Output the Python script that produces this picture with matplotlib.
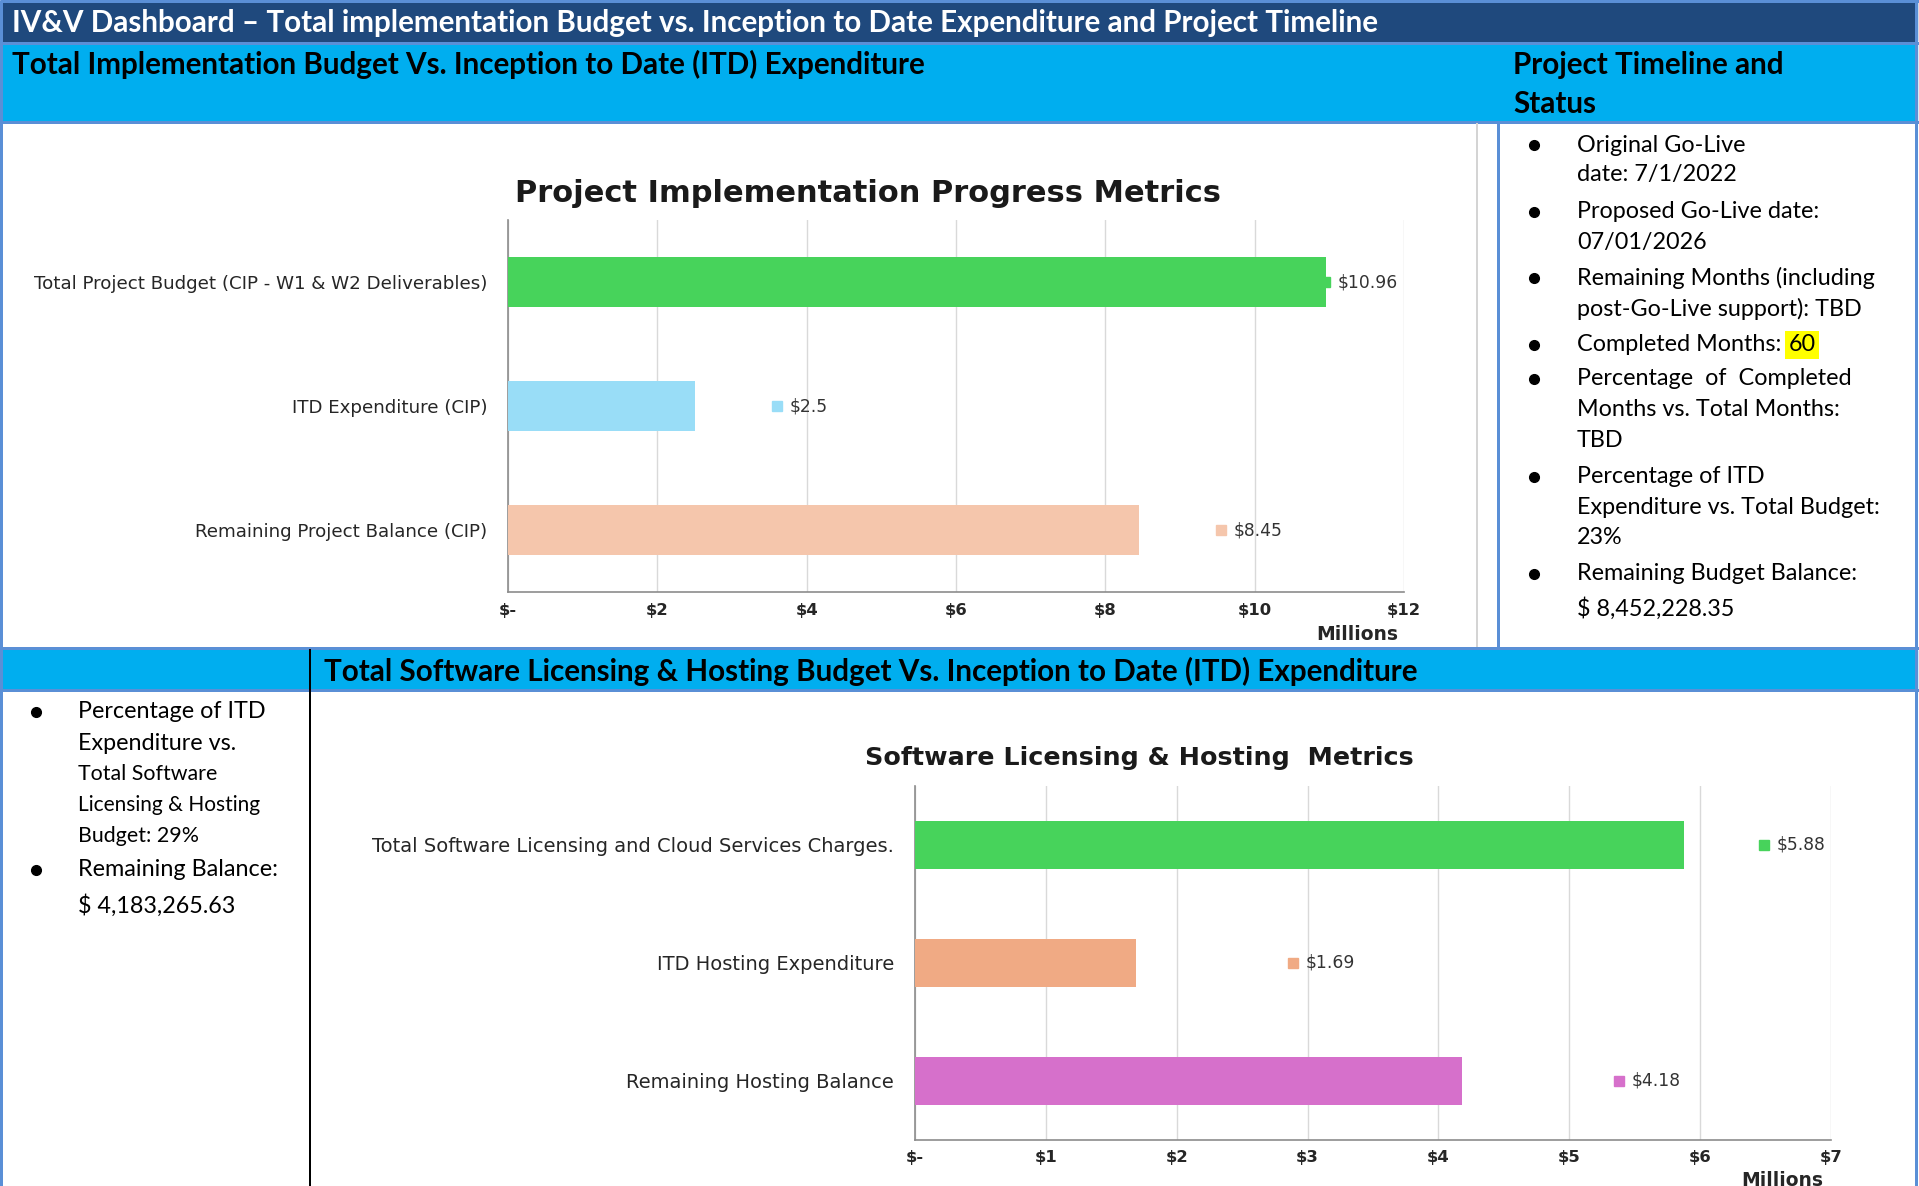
import matplotlib
matplotlib.use("Agg")
import matplotlib.pyplot as plt
from matplotlib.patches import Rectangle

# implementation budget chart
impl_categories = [
    "Total Project Budget (CIP - W1 & W2 Deliverables)",
    "ITD Expenditure (CIP)",
    "Remaining Project Balance (CIP)",
]
impl_values = [10.96, 2.5, 8.45]
impl_colors = ["#47D35B", "#99DDF7", "#F5C6AC"]
impl_ticks = [0, 2, 4, 6, 8, 10, 12]

# software licensing & hosting chart
host_categories = [
    "Total Software Licensing and Cloud Services Charges.",
    "ITD Hosting Expenditure",
    "Remaining Hosting Balance",
]
host_values = [5.88, 1.69, 4.18]
host_colors = ["#47D35B", "#F0AA84", "#D670CB"]
host_ticks = [0, 1, 2, 3, 4, 5, 6, 7]

# status text
timeline_items = [
    ["Original Go-Live", "date: 7/1/2022"],
    ["Proposed Go-Live date:", "07/01/2026"],
    ["Remaining Months (including", "post-Go-Live support): TBD"],
    ["Completed Months: "],
    ["Percentage  of  Completed", "Months vs. Total Months:", "TBD"],
    ["Percentage of ITD", "Expenditure vs. Total Budget:", "23%"],
    ["Remaining Budget Balance:", "$ 8,452,228.35"],
]
completed_months = "60"
hosting_items = [
    ["Percentage of ITD", "Expenditure vs.", "Total Software", "Licensing & Hosting", "Budget: 29%"],
    ["Remaining Balance:", "$ 4,183,265.63"],
]

NAVY = "#1F497D"
CYAN = "#00AEEF"
EDGE = "#5A8FD6"
BODY = "Lato"
CHART = "DejaVu Sans"

W, H = 1919, 1186
fig = plt.figure(figsize=(W / 100, H / 100), dpi=100)
bg = fig.add_axes([0, 0, 1, 1], zorder=0)
bg.set_xlim(0, W)
bg.set_ylim(H, 0)
bg.axis("off")


def px_lw(p):
    return p * 0.72


def hline(y, x0, x1, color=EDGE, width=3):
    bg.plot([x0, x1], [y, y], color=color, lw=px_lw(width), solid_capstyle="butt")


def vline(x, y0, y1, color=EDGE, width=3):
    bg.plot([x, x], [y0, y1], color=color, lw=px_lw(width), solid_capstyle="butt")


# bands
bg.add_patch(Rectangle((2, 2), W - 4, 39, color=NAVY))
bg.add_patch(Rectangle((2, 44), W - 4, 77, color=CYAN))
bg.add_patch(Rectangle((2, 650), W - 4, 39, color=CYAN))
hline(1, 0, W)
hline(42.5, 0, W)
hline(122, 0, W)
hline(648, 0, W)
hline(690, 0, W)
vline(1, 0, H)
vline(1916, 0, H)
vline(1498, 122, 648)
vline(1477, 123, 647, color="#D4D4D4", width=2)
vline(310, 649, H, color="black", width=2)

HEAD = 21.3
bg.text(12, 23, "IV&V Dashboard \u2013 Total implementation Budget vs. Inception to Date Expenditure and Project Timeline",
        color="white", fontsize=HEAD, fontweight="bold", family=BODY, va="center")
bg.text(12, 64, "Total Implementation Budget Vs. Inception to Date (ITD) Expenditure",
        fontsize=HEAD, fontweight="bold", family=BODY, va="center")
bg.text(1513, 65, "Project Timeline and", fontsize=HEAD, fontweight="bold", family=BODY, va="center")
bg.text(1513, 104, "Status", fontsize=HEAD, fontweight="bold", family=BODY, va="center")
bg.text(324, 671, "Total Software Licensing & Hosting Budget Vs. Inception to Date (ITD) Expenditure",
        fontsize=HEAD, fontweight="bold", family=BODY, va="center")


def bullet_list(items, x_dot, x_txt, y_start, line_hs, gaps, sizes=None):
    y = y_start
    placed = []
    for k, lines in enumerate(items):
        bg.plot(x_dot, y, marker="o", ms=7, color="black")
        for j, line in enumerate(lines):
            fs = sizes[k][j] if sizes else 16.8
            t = bg.text(x_txt, y, line, fontsize=fs, family=BODY, va="center")
            placed.append(t)
            y += line_hs[k]
        y += gaps[k] - line_hs[k] + 30.5
    return placed


tl_texts = bullet_list(timeline_items, 1534, 1577, 145,
                       [30, 31, 31.5, 30.5, 31, 30.5, 35],
                       [6.5, 4, 5, 3.5, 5.5, 5.5, 0])
hs_texts = bullet_list(hosting_items, 36, 78, 712, [31, 36.5], [3, 0],
                       sizes=[[16.8, 16.8, 15.4, 15.0, 15.4], [16.8, 16.8]])

# highlighted month count right after its label
renderer = fig.canvas.get_renderer()
label = [t for t in tl_texts if t.get_text().startswith("Completed")][0]
ext = label.get_window_extent(renderer)
x_end = bg.transData.inverted().transform((ext.x1, ext.y0))[0]
bg.text(x_end + 1, label.get_position()[1], completed_months, fontsize=16.8, family=BODY, va="center",
        bbox=dict(facecolor="#FFFF00", edgecolor="none", pad=2.5))


def add_chart(box, categories, values, colors, ticks, title, title_xy, title_size,
              label_size, millions_xy, offset, cap, tick_pad):
    x0, y0, x1, y1 = box
    ax = fig.add_axes([x0 / W, 1 - y1 / H, (x1 - x0) / W, (y1 - y0) / H], zorder=2)
    ax.patch.set_alpha(0)
    pos = list(range(len(values)))
    ax.barh(pos, values, height=0.4, color=colors, zorder=3)
    ax.set_xlim(ticks[0], ticks[-1])
    ax.set_ylim(len(values) - 0.5, -0.5)
    ax.set_xticks(ticks)
    ax.set_xticklabels(["$-" if t == 0 else f"${t}" for t in ticks],
                       fontsize=11.8, fontweight="bold", family=CHART, color="#262626")
    ax.set_yticks(pos)
    ax.set_yticklabels(categories, fontsize=label_size, family=CHART, color="#262626")
    ax.tick_params(axis="y", length=0, pad=15)
    ax.tick_params(axis="x", length=0, pad=tick_pad)
    ax.set_axisbelow(True)
    ax.grid(axis="x", color="#D9D9D9", lw=1)
    for side in ("top", "right"):
        ax.spines[side].set_visible(False)
    for side in ("left", "bottom"):
        ax.spines[side].set_color("#8C8C8C")
        ax.spines[side].set_linewidth(1.2)
    for i, (v, c) in enumerate(zip(values, colors)):
        kx = min(v + offset, cap)
        ax.plot(kx, i, marker="s", ms=7, color=c, zorder=4, clip_on=False)
        ax.annotate(f"${v:g}", (kx, i), xytext=(9, 0), textcoords="offset points",
                    va="center", ha="left", fontsize=12.3, family=CHART, color="#333333")
    bg.text(title_xy[0], title_xy[1], title, fontsize=title_size, fontweight="bold",
            family=CHART, ha="center", va="center", color="#1A1A1A")
    bg.text(millions_xy[0], millions_xy[1], "Millions", fontsize=13.5, fontweight="bold",
            family=CHART, ha="center", va="center", color="#262626")
    return ax


add_chart((508, 220, 1404, 592), impl_categories, impl_values, impl_colors, impl_ticks,
          "Project Implementation Progress Metrics", (868, 193), 22, 13.15, (1357, 635),
          1.1, 10.94, 8)
add_chart((915, 786, 1831, 1140), host_categories, host_values, host_colors, host_ticks,
          "Software Licensing & Hosting  Metrics", (1139, 758), 18.3, 14, (1782, 1180),
          1.2, 6.49, 7)

fig.savefig("out.png", dpi=100)
